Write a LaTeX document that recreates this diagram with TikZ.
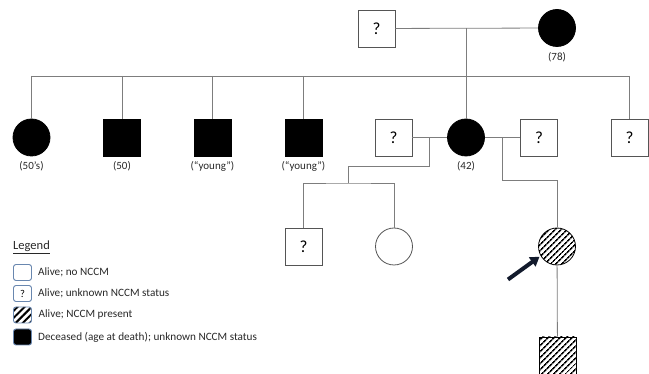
\documentclass[tikz,border=0pt]{standalone}
\usepackage{fontspec}
\setmainfont{Carlito}
\usetikzlibrary{arrows.meta,positioning,patterns.meta,calc}

\begin{document}
\begin{tikzpicture}[
  x=1pt, y=-1pt,
  >=Latex,
  male/.style={draw=cshape, rectangle, minimum size=37pt, inner sep=0pt, line width=0.8pt, font=\fontsize{17}{18}\selectfont},
  female/.style={draw=cshape, circle, minimum size=37pt, inner sep=0pt, line width=0.8pt},
  dead/.style={fill=black, draw=black},
  hatched/.style={pattern={Lines[angle=45,distance=4pt,line width=1.6pt]}, draw=black},
  age/.style={font=\fontsize{11}{12}\selectfont, text=cage, inner sep=1pt, label distance=4pt},
  link/.style={draw=cline, line width=0.8pt},
  legbox/.style={draw=cleg, rounded corners=2.5pt, minimum width=18pt, minimum height=16pt, inner sep=0pt, line width=0.9pt, font=\fontsize{10.5}{11}\selectfont},
  legtext/.style={font=\fontsize{11.2}{12}\selectfont, text=cage, inner sep=0pt}
]

\definecolor{cshape}{RGB}{85,85,85}
\definecolor{cline}{RGB}{125,125,125}
\definecolor{cage}{RGB}{40,40,40}
\definecolor{cleg}{RGB}{105,135,175}
\definecolor{carrow}{RGB}{18,26,44}

\useasboundingbox (0,0) rectangle (649,374);

% generation I
\node[male] (gf) at (376.5,28.5) {?};
\node[female, dead, label={[age]below:(78)}] (gm) at (557,28) {};

% generation II
\node[female, dead, label={[age]below:(50’s)}] (c1) at (31.5,137.5) {};
\node[male, dead, label={[age]below:(50)}] (c2) at (122,137.5) {};
\node[male, dead, label={[age]below:(“young”)}] (c3) at (212.5,137.5) {};
\node[male, dead, label={[age]below:(“young”)}] (c4) at (303.5,137.5) {};
\node[male] (sp1) at (393.5,137.5) {?};
\node[female, dead, label={[age]below:(42)}] (a42) at (466,137.5) {};
\node[male] (sp2) at (539,137.5) {?};
\node[male] (u5) at (629.5,137.5) {?};

% generation III
\node[male] (k1) at (303.5,246.5) {?};
\node[female] (k2) at (394,246.5) {};
\node[female, hatched] (pr) at (557,246.5) {};

% generation IV
\node[male, hatched] (g1) at (557.5,355.5) {};

% lines of descent
\coordinate (sib) at (465,76);
\coordinate (m2) at ($(sp1.east)!0.5!(a42.west)$);
\coordinate (m3) at ($(a42.east)!0.5!(sp2.west)$);
\coordinate (s2) at (348,183);

\draw[link] (gf) -- (gm);
\draw[link] (gf -| a42) -- (a42);
\draw[link] (c1 |- sib) -- (u5 |- sib);
\foreach \n in {c1,c2,c3,c4,u5}
  \draw[link] (\n |- sib) -- (\n);

\draw[link] (sp1) -- (a42);
\draw[link] (m2) -- ++(0,28.5) -| (s2);
\draw[link] (k1) |- (s2) -| (k2);

\draw[link] (a42) -- (sp2);
\draw[link] (m3) -- ++(0,42.5) -| (pr);
\draw[link] (pr) -- (g1);

% proband
\coordinate (ptail) at (508,279.5);
\draw[carrow, line width=4pt, -{Triangle[length=9pt,width=11pt]}, shorten >=1pt] (ptail) -- (pr.210);

% legend
\node[anchor=west, font=\fontsize{12.5}{13}\selectfont, text=cage, inner sep=0pt] (leg) at (13,247) {\underline{Legend}};
\node[legbox] (lg1) at (22.5,272.5) {};
\node[legbox] (lg2) at (22.5,293.5) {?};
\node[legbox, pattern={Lines[angle=45,distance=5pt,line width=2pt]}] (lg3) at (22.5,315) {};
\node[legbox, fill=black] (lg4) at (22.5,337) {};
\node[legtext, right=6pt of lg1] {Alive; no NCCM};
\node[legtext, right=6pt of lg2] {Alive; unknown NCCM status};
\node[legtext, right=6pt of lg3] {Alive; NCCM present};
\node[legtext, right=6pt of lg4] {Deceased (age at death); unknown NCCM status};

\end{tikzpicture}
\end{document}
